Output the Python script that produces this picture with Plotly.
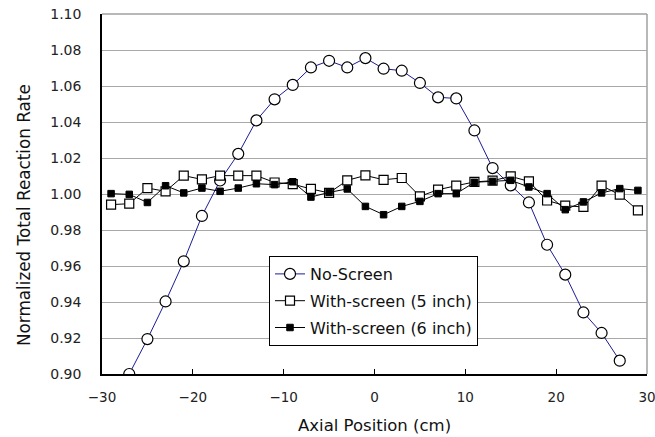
import plotly.graph_objects as go

x_no = [-27, -25, -23, -21, -19, -17, -15, -13, -11, -9, -7, -5, -3, -1, 1, 3, 5, 7, 9, 11, 13, 15, 17, 19, 21, 23, 25, 27]
y_no = [0.900, 0.9194, 0.9403, 0.9626, 0.9878, 1.0075, 1.0223, 1.0409, 1.0526, 1.0606, 1.0703, 1.0740, 1.0703,
        1.0755, 1.0696, 1.0685, 1.0617, 1.0537, 1.0531, 1.0353, 1.0144, 1.0048, 0.9953, 0.9718, 0.9552, 0.9342,
        0.9228, 0.9074]

x_sc = [-29, -27, -25, -23, -21, -19, -17, -15, -13, -11, -9, -7, -5, -3, -1, 1, 3, 5, 7, 9, 11, 13, 15, 17, 19, 21, 23, 25, 27, 29]
y_5in = [0.9941, 0.9946, 1.0033, 1.0015, 1.0102, 1.0081, 1.0102, 1.0102, 1.0102, 1.0064, 1.0055, 1.0028, 1.0006,
         1.0076, 1.0103, 1.0079, 1.0089, 0.9987, 1.0024, 1.0046, 1.0067, 1.0074, 1.0098, 1.0070, 0.9964, 0.9935,
         0.9928, 1.0046, 0.9996, 0.9909]
y_6in = [1.0002, 0.9998, 0.9953, 1.0046, 1.0006, 1.0033, 1.0015, 1.0033, 1.0057, 1.0052, 1.0068, 0.9983, 1.0009,
         1.0028, 0.9931, 0.9885, 0.9931, 0.9959, 1.0002, 1.0002, 1.0065, 1.0070, 1.0076, 1.0039, 1.0002, 0.9913,
         0.9956, 1.0006, 1.0030, 1.0020]

x_ticks = [-30, -20, -10, 0, 10, 20, 30]
y_ticks = [0.90, 0.92, 0.94, 0.96, 0.98, 1.00, 1.02, 1.04, 1.06, 1.08, 1.10]

FONT = "DejaVu Sans"

fig = go.Figure()
fig.add_trace(go.Scatter(
    x=x_no, y=y_no, name="No-Screen", mode="lines+markers", legendgroup="a",
    line=dict(color="#1c1c96", width=1),
    marker=dict(symbol="circle", size=11, color="white", line=dict(color="black", width=1.2)),
))
fig.add_trace(go.Scatter(
    x=x_sc, y=y_5in, name="With-screen (5 inch)", mode="lines+markers", legendgroup="b",
    line=dict(color="black", width=1),
    marker=dict(symbol="square", size=9, color="white", line=dict(color="black", width=1.2)),
))
fig.add_trace(go.Scatter(
    x=x_sc, y=y_6in, name="With-screen (6 inch)", mode="lines+markers", legendgroup="c",
    line=dict(color="black", width=1),
    marker=dict(symbol="square", size=6.5, color="black", line=dict(color="black", width=1)),
))

# gray top and right frame
fig.add_shape(type="line", xref="paper", yref="paper", x0=0, x1=1, y0=1, y1=1,
              line=dict(color="#a0a0a0", width=1.5), layer="below")
fig.add_shape(type="line", xref="paper", yref="paper", x0=1, x1=1, y0=0, y1=1,
              line=dict(color="#a0a0a0", width=1.5), layer="below")

L, R, T, B = 102, 8, 14, 63
PW, PH = 655 - L - R, 437 - T - B
BOT = 437 - B

fig.add_annotation(text="Normalized Total Reaction Rate", xref="paper", yref="paper",
                   x=(24 - L) / PW, y=(BOT - 215) / PH, xanchor="center", yanchor="middle", textangle=-90,
                   showarrow=False, font=dict(family=FONT, size=16.8, color="#111"))
fig.add_annotation(text="Axial Position (cm)", xref="paper", yref="paper",
                   x=0.5, y=-(425 - BOT) / PH, xanchor="center", yanchor="middle",
                   showarrow=False, font=dict(family=FONT, size=16.5, color="#111"))

fig.update_layout(
    width=655, height=437,
    margin=dict(l=L, r=R, t=T, b=B),
    paper_bgcolor="white", plot_bgcolor="white",
    font=dict(family=FONT, color="#222"),
    showlegend=True,
    legend=dict(
        x=(269 - L) / PW, y=(BOT - 256) / PH, xanchor="left", yanchor="top",
        bgcolor="white", bordercolor="black", borderwidth=1,
        font=dict(family=FONT, size=16, color="#111"),
        traceorder="grouped", tracegroupgap=3, itemwidth=30,
    ),
    xaxis=dict(
        range=[-30, 30], tickvals=x_ticks, ticks="inside", ticklen=5, tickcolor="black",
        showline=True, linecolor="black", linewidth=1.5, showgrid=False, zeroline=False,
        tickfont=dict(family=FONT, size=13.5, color="#222"), automargin=False,
        ticklabelstandoff=10, ticklabeloverflow="allow",
    ),
    yaxis=dict(
        range=[0.90, 1.10], tickvals=y_ticks, tickformat=".2f",
        showline=True, linecolor="black", linewidth=1.5,
        showgrid=True, gridcolor="#a8a8a8", gridwidth=1, zeroline=False,
        tickfont=dict(family=FONT, size=14, color="#222"), automargin=False,
        ticklabelstandoff=16,
    ),
)

fig.write_html(
    "out.html",
    config={"displayModeBar": False},
    post_script="document.body.style.margin='0';document.body.style.overflow='hidden';",
)
